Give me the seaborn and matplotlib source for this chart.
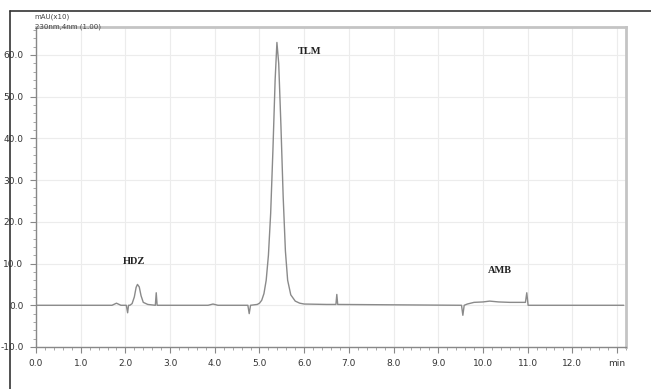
import matplotlib
matplotlib.use("Agg")
import matplotlib.pyplot as plt
from matplotlib.ticker import MultipleLocator
import pandas as pd
import seaborn as sns

# chromatogram trace (time in min, signal in mAU x10)
time = [0.0, 1.70, 1.80, 1.90, 2.02, 2.05, 2.07, 2.10, 2.15, 2.20, 2.24, 2.27,
        2.31, 2.35, 2.40, 2.50, 2.67, 2.69, 2.71, 2.74, 3.85, 3.96, 4.07, 4.74,
        4.77, 4.80, 4.95, 5.00, 5.05, 5.10, 5.15, 5.20, 5.25, 5.30, 5.35, 5.39,
        5.43, 5.48, 5.53, 5.58, 5.63, 5.70, 5.80, 5.90, 6.00, 6.50, 6.71, 6.73,
        6.75, 9.52, 9.55, 9.58, 9.65, 9.80, 10.00, 10.15, 10.35, 10.60, 10.95,
        10.98, 11.01, 11.05, 13.15]
signal = [0.0, 0.0, 0.5, 0.0, 0.0, -1.8, 0.0, 0.0, 0.4, 2.0, 4.3, 5.0,
          4.4, 2.3, 0.7, 0.2, 0.0, 3.0, 0.0, 0.0, 0.0, 0.3, 0.0, 0.0,
          -2.0, 0.0, 0.2, 0.5, 1.2, 2.8, 6.0, 12.0, 22.0, 37.0, 54.0, 63.0,
          58.0, 43.0, 26.0, 13.0, 6.0, 2.5, 1.0, 0.5, 0.3, 0.2, 0.2, 2.6,
          0.2, 0.0, -2.4, 0.0, 0.3, 0.7, 0.8, 1.0, 0.8, 0.7, 0.7,
          3.0, 0.0, 0.0, 0.0]

x_ticks = [0, 1, 2, 3, 4, 5, 6, 7, 8, 9, 10, 11, 12, 13]
x_labels = ["0.0", "1.0", "2.0", "3.0", "4.0", "5.0", "6.0", "7.0", "8.0",
            "9.0", "10.0", "11.0", "12.0", "min"]
y_ticks = [-10, 0, 10, 20, 30, 40, 50, 60]
y_labels = ["-10.0", "0.0", "10.0", "20.0", "30.0", "40.0", "50.0", "60.0"]

peak_names = ["HDZ", "TLM", "AMB"]
peak_x = [1.95, 5.85, 10.1]
peak_y = [10.0, 60.3, 7.8]

df = pd.DataFrame({"time": time, "signal": signal})

sns.set_style("white")
fig = plt.figure(figsize=(6.51, 3.89), dpi=100)
ax = fig.add_axes([36 / 651, 42 / 389, 590 / 651, 320 / 389])

sns.lineplot(data=df, x="time", y="signal", ax=ax, color="#8a8a8a", linewidth=1.0)

ax.set_xlim(0, 13.2)
ax.set_ylim(-10, 66.7)
ax.set_xticks(x_ticks)
ax.set_xticklabels(x_labels)
ax.set_yticks(y_ticks)
ax.set_yticklabels(y_labels)
ax.xaxis.set_minor_locator(MultipleLocator(0.2))
ax.yaxis.set_minor_locator(MultipleLocator(2))
ax.tick_params(axis="both", which="major", direction="out", length=4, width=0.8,
               color="#888888", labelsize=6.5, labelcolor="#333333", pad=5)
ax.tick_params(axis="both", which="minor", direction="out", length=2, width=0.6,
               color="#999999")
ax.tick_params(bottom=True, left=True, which="both")
ax.grid(True, which="major", color="#ececec", linewidth=0.8)
ax.set_xlabel("")
ax.set_ylabel("")

for side in ["left", "bottom"]:
    ax.spines[side].set_color("#888888")
    ax.spines[side].set_linewidth(1.0)
for side in ["top", "right"]:
    ax.spines[side].set_color("#c4c4c4")
    ax.spines[side].set_linewidth(2.0)

for name, px, py in zip(peak_names, peak_x, peak_y):
    ax.text(px, py, name, family="Liberation Serif", fontweight="bold",
            fontsize=7.5, color="#222222")

fig.text(34 / 651, 1 - 17 / 389, "mAU(x10)", fontsize=5, color="#444444",
         va="center")
fig.text(35 / 651, 1 - 27 / 389, "230nm,4nm (1.00)", fontsize=5,
         color="#444444", va="center")

# outer border of the screenshot (only top and left edges are visible)
fig.add_artist(plt.Line2D([10 / 651, 10 / 651], [0, 1 - 11 / 389],
                          transform=fig.transFigure, color="#333333", linewidth=1.2))
fig.add_artist(plt.Line2D([10 / 651, 1], [1 - 11 / 389, 1 - 11 / 389],
                          transform=fig.transFigure, color="#333333", linewidth=1.2))

plt.savefig("out.png", dpi=100)
